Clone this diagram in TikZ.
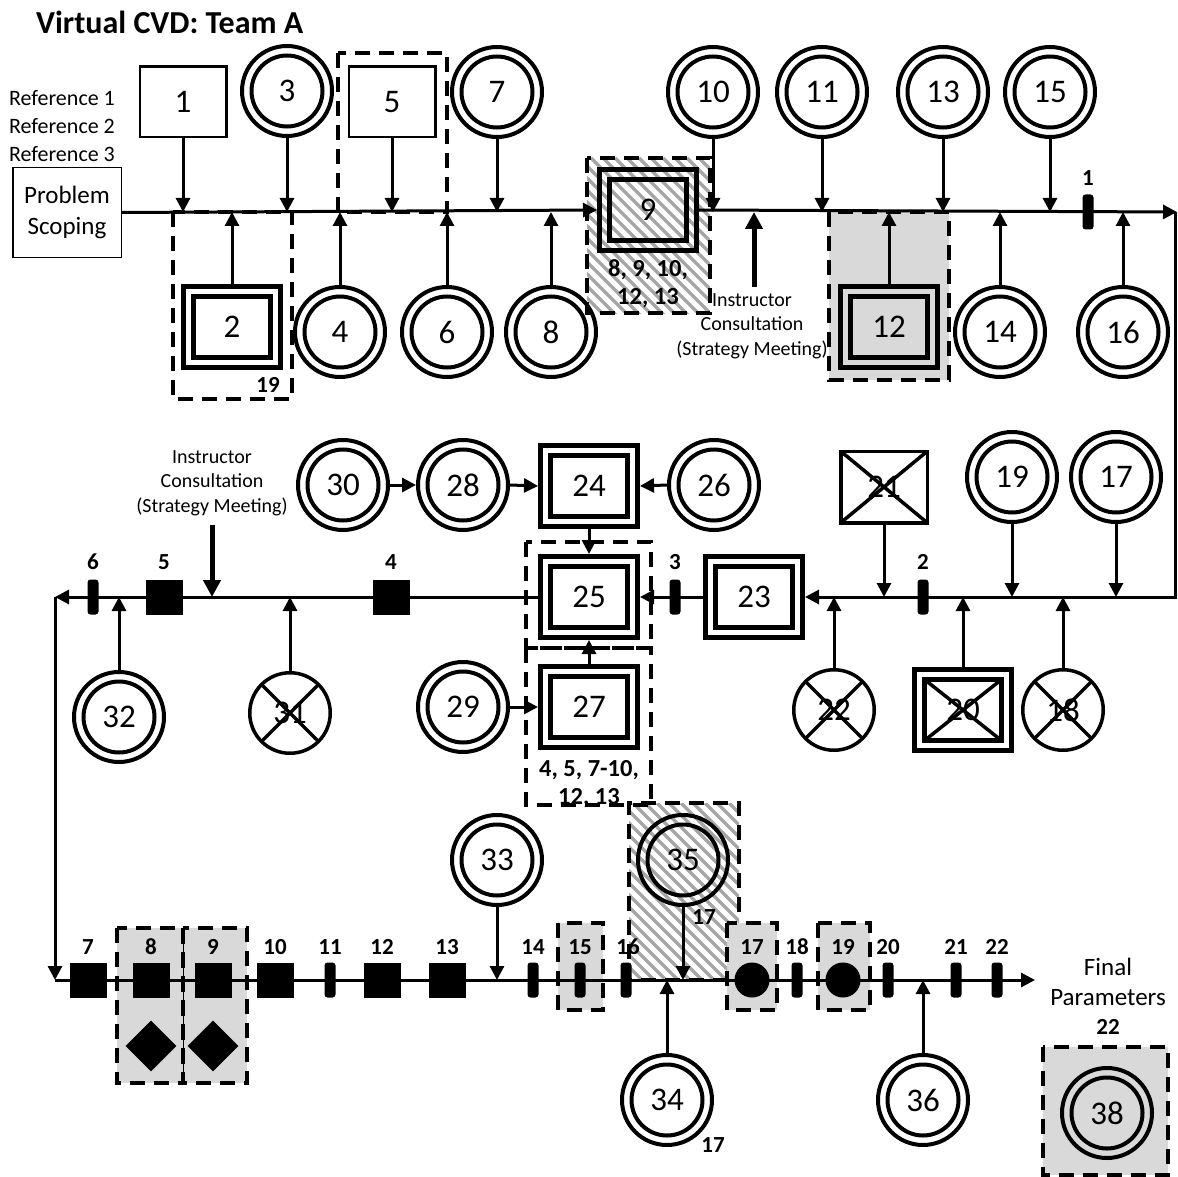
\documentclass[tikz,border=0pt]{standalone}
\usepackage{fontspec}
\setmainfont{Carlito}
\usetikzlibrary{arrows.meta,shapes.geometric}
\pgfdeclarelayer{bg}
\pgfdeclarelayer{fg}
\pgfsetlayers{bg,main,fg}
\definecolor{grayc}{RGB}{217,217,217}
\definecolor{hatchc}{RGB}{166,166,166}
\newcommand\numf{\fontsize{33}{36}\selectfont}
\newcommand\lblf{\fontsize{23}{27}\selectfont\bfseries}
\newcommand\grpf{\fontsize{24.5}{28}\selectfont\bfseries}
\newcommand\txtf{\fontsize{20}{24.5}\selectfont}
\newcommand\dcirc[3]{\node[dco] (#1) at (#2) {}; \node[dci] (#1in) at (#2) {#3};}
\newcommand\dboxn[3]{\node[dbo] (#1) at (#2) {}; \node[dbi] (#1in) at (#2) {#3};}
\newcommand\hatchrect[4]{\begin{scope}\clip (#1,#2) rectangle (#3,#4);
  \foreach \a in {-200,-188,...,140} {\draw[hatchline] ({#1+\a},#2) -- ++(260,260);}\end{scope}}
\tikzset{
 ln/.style={line width=3pt},
 arr/.style={line width=3pt,-{Triangle[length=14pt,width=14pt]}},
 bigarr/.style={line width=5pt,-{Triangle[length=17pt,width=17pt]}},
 dco/.style={circle,draw,line width=4pt,minimum size=90pt,inner sep=0pt,outer sep=2pt},
 dci/.style={circle,draw,line width=4pt,minimum size=71pt,inner sep=0pt,font=\numf},
 dbo/.style={rectangle,draw,line width=5pt,minimum width=97pt,minimum height=81pt,inner sep=0pt,outer sep=2.5pt},
 dbi/.style={rectangle,draw,line width=5pt,minimum width=77pt,minimum height=61pt,inner sep=0pt,font=\numf},
 xpic/.style={path picture={\draw[line width=3.5pt] (path picture bounding box.south west) -- (path picture bounding box.north east) (path picture bounding box.north west) -- (path picture bounding box.south east);}},
 sbox/.style={rectangle,draw,line width=2.5pt,minimum width=86.5pt,minimum height=70.5pt,inner sep=0pt,outer sep=1.25pt,font=\numf},
 xcirc/.style={circle,draw,line width=3.5pt,minimum size=80.5pt,inner sep=0pt,outer sep=1.75pt,font=\numf,xpic},
 xbox/.style={rectangle,draw,line width=3.5pt,minimum width=86.5pt,minimum height=71.5pt,inner sep=0pt,outer sep=1.75pt,font=\numf,xpic},
 sqm/.style={rectangle,fill=black,minimum width=37pt,minimum height=35pt,inner sep=0pt},
 thm/.style={rectangle,fill=black,rounded corners=3pt,minimum width=11pt,minimum height=35pt,inner sep=0pt},
 dtm/.style={circle,fill=black,minimum size=35pt,inner sep=0pt},
 dmd/.style={diamond,fill=black,minimum width=51pt,minimum height=51pt,inner sep=0pt},
 lbl/.style={font=\lblf,inner sep=0pt},
 grp/.style={font=\grpf,inner sep=0pt},
 txt/.style={font=\txtf,align=center,inner sep=0pt},
 dbox/.style={line width=4pt,dash pattern=on 15pt off 9pt},
 hatchline/.style={draw=hatchc,line width=3.5pt},
}
\begin{document}
\begin{tikzpicture}[x=1pt,y=-1pt]
\useasboundingbox (0,0) rectangle (1178,1177);
\begin{pgfonlayer}{bg}
 \fill[white] (0,0) rectangle (1178,1177);
 \hatchrect{587}{158}{710}{313}
 \hatchrect{629}{803}{739}{980}
 \fill[grayc] (829,212) rectangle (949,380);
 \fill[grayc] (117,928) rectangle (247,1083);
 \fill[grayc] (558,923) rectangle (603,1010);
 \fill[grayc] (727,923) rectangle (777,1010);
 \fill[grayc] (818,923) rectangle (870,1010);
 \fill[grayc] (1043,1047) rectangle (1168,1175);
\end{pgfonlayer}

% title and texts
\node[anchor=west,font=\fontsize{32}{36}\selectfont\bfseries,inner sep=0pt] (title) at (36,22) {Virtual CVD: Team A};
\node[font=\fontsize{22}{26}\selectfont,inner sep=0pt] (ref1) at (62,98) {Reference 1};
\node[font=\fontsize{22}{26}\selectfont,inner sep=0pt] (ref2) at (62,126) {Reference 2};
\node[font=\fontsize{22}{26}\selectfont,inner sep=0pt] (ref3) at (62,154) {Reference 3};
\node[draw,line width=1.5pt,minimum width=108.5pt,minimum height=89.5pt,align=center,inner sep=0pt,outer sep=0.75pt,font=\fontsize{25}{31}\selectfont] (ps) at (67,212.5) {Problem\\Scoping};
\node[txt] (it1) at (752,326) {Instructor\\Consultation\\(Strategy Meeting)};
\node[txt] (it2) at (212,483) {Instructor\\Consultation\\(Strategy Meeting)};
\node[font=\fontsize{25}{30}\selectfont,align=center,inner sep=0pt] (fp) at (1108,982) {Final\\Parameters};
\node[lbl] (fp22) at (1108,1027) {22};

% line reference coordinates
\coordinate (L1) at (0,212);
\coordinate (L2) at (0,597);
\coordinate (L3) at (0,980);
\coordinate (cTR) at (1177,212);
\coordinate (cTRv) at (1175,212);
\coordinate (cML) at (55,597);
\coordinate (cBL) at (55,980);
\coordinate (cBR) at (1035,980);
\coordinate (ic1) at (754,287);
\coordinate (ic2) at (212,525);

% top row nodes
\node[sbox] (n1) at (183,102) {1};
\dcirc{n3}{287,91}{3}
\node[sbox] (n5) at (392,102) {5};
\dcirc{n7}{497,92}{7}
\dcirc{n10}{713,92}{10}
\dcirc{n11}{822,92}{11}
\dcirc{n13}{943,92}{13}
\dcirc{n15}{1050,92}{15}
\dboxn{n2}{232,327}{2}
\dcirc{n4}{340,332}{4}
\dcirc{n6}{447,332}{6}
\dcirc{n8}{551,332}{8}
\dboxn{n9}{648,210}{9}
\dboxn{n12}{889,327}{12}
\dcirc{n14}{1000,332}{14}
\dcirc{n16}{1123,332}{16}
\node[grp] (g9a) at (648,270) {8, 9, 10,};
\node[grp] (g9b) at (648,298) {12, 13};
\node[lbl] (g2) at (268,385) {19};

% middle row nodes
\dcirc{n30}{343,485}{30}
\dcirc{n28}{463,485}{28}
\dboxn{n24}{589,486}{24}
\dcirc{n26}{714,485}{26}
\dboxn{n25}{589,597}{25}
\dboxn{n27}{589,707}{27}
\dcirc{n29}{463,707}{29}
\dboxn{n23}{754,597}{23}
\node[xbox] (n21) at (884,487) {21};
\dcirc{n19}{1012,477}{19}
\dcirc{n17}{1116,477}{17}
\dcirc{n32}{119,717}{32}
\node[xcirc] (n31) at (290,713) {31};
\node[xcirc] (n22) at (834,710) {22};
\node[dbo] (n20) at (963,710) {};
\node[dbi,xpic] (n20in) at (963,710) {20};
\node[xcirc] (n18) at (1063,710) {18};
\node[grp] (g27a) at (589,770) {4, 5, 7-10,};
\node[grp] (g27b) at (589,798) {12, 13};

% bottom row nodes
\dcirc{n33}{497,860}{33}
\dcirc{n35}{683,860}{35}
\dcirc{n34}{667,1100}{34}
\dcirc{n36}{923,1100}{36}
\dcirc{n38}{1107,1113}{38}
\node[lbl] (l35) at (704,917) {17};
\node[lbl] (l34) at (713,1145) {17};

% main lines
\draw[arr] (ps.east) -- (n9.west);
\draw[arr] (n9.east) -- (cTR);
\draw[arr] (cTRv) |- (n23.east);
\draw[arr] (n23.west) -- (n25.east);
\draw[arr] (n25.west) -- (cML);
\draw[arr] (cML) -- (cBL);
\draw[arr] (cBL) -- (cBR);

% top arrows
\foreach \n in {n1,n3,n5,n7,n10,n11,n13,n15} {\draw[arr] (\n.south) -- (\n |- L1);}
\foreach \n in {n2,n4,n6,n8,n12,n14,n16} {\draw[arr] (\n.north) -- (\n |- L1);}
\draw[bigarr] (ic1) -- (ic1 |- L1);
% middle arrows
\foreach \n in {n21,n19,n17} {\draw[arr] (\n.south) -- (\n |- L2);}
\foreach \n in {n32,n31,n22,n20,n18} {\draw[arr] (\n.north) -- (\n |- L2);}
\draw[bigarr] (ic2) -- (ic2 |- L2);
\draw[arr] (n30.east) -- (n28.west);
\draw[arr] (n28.east) -- (n24.west);
\draw[arr] (n26.west) -- (n24.east);
\draw[arr] (n24.south) -- (n25.north);
\draw[arr] (n27.north) -- (n25.south);
\draw[arr] (n29.east) -- (n27.west);
% bottom arrows
\foreach \n in {n33,n35} {\draw[arr] (\n.south) -- (\n |- L3);}
\foreach \n in {n34,n36} {\draw[arr] (\n.north) -- (\n |- L3);}

\begin{pgfonlayer}{fg}
 % markers top / middle
 \node[thm] (m1) at (1088,212) {};
 \node[lbl] (lm1) at (1088,178) {1};
 \node[thm] (m6) at (93,597) {};   \node[lbl] (lm6) at (93,562) {6};
 \node[sqm] (m5) at (164,597) {};  \node[lbl] (lm5) at (164,562) {5};
 \node[sqm] (m4) at (391,597) {};  \node[lbl] (lm4) at (391,562) {4};
 \node[thm] (m3) at (675,597) {};  \node[lbl] (lm3) at (675,562) {3};
 \node[thm] (m2) at (923,597) {};  \node[lbl] (lm2) at (923,562) {2};
 % bottom markers
 \node[sqm] (b7) at (88,980) {};   \node[lbl] (lb7) at (88,947) {7};
 \node[sqm] (b8) at (151,980) {};  \node[lbl] (lb8) at (151,947) {8};
 \node[sqm] (b9) at (213,980) {};  \node[lbl] (lb9) at (213,947) {9};
 \node[sqm] (b10) at (275,980) {}; \node[lbl] (lb10) at (275,947) {10};
 \node[thm] (b11) at (330,980) {}; \node[lbl] (lb11) at (330,947) {11};
 \node[sqm] (b12) at (382,980) {}; \node[lbl] (lb12) at (382,947) {12};
 \node[sqm] (b13) at (447,980) {}; \node[lbl] (lb13) at (447,947) {13};
 \node[thm] (b14) at (533,980) {}; \node[lbl] (lb14) at (533,947) {14};
 \node[thm] (b15) at (580,980) {}; \node[lbl] (lb15) at (580,947) {15};
 \node[thm] (b16) at (626,980) {}; \node[lbl] (lb16) at (628,947) {16};
 \node[dtm] (b17) at (752,980) {}; \node[lbl] (lb17) at (752,947) {17};
 \node[thm] (b18) at (797,980) {}; \node[lbl] (lb18) at (797,947) {18};
 \node[dtm] (b19) at (843,980) {}; \node[lbl] (lb19) at (843,947) {19};
 \node[thm] (b20) at (888,980) {}; \node[lbl] (lb20) at (888,947) {20};
 \node[thm] (b21) at (956,980) {}; \node[lbl] (lb21) at (956,947) {21};
 \node[thm] (b22) at (997,980) {}; \node[lbl] (lb22) at (997,947) {22};
 \node[dmd] (d8) at (151,1046) {};
 \node[dmd] (d9) at (213,1046) {};
 % dashed group borders
 \draw[dbox] (173,212) rectangle (292,399);
 \draw[dbox] (338,53) rectangle (447,212);
 \draw[dbox] (587,158) rectangle (710,313);
 \draw[dbox] (829,212) rectangle (949,380);
 \draw[dbox] (526,542) rectangle (651,648);
 \draw[dbox] (526,648) rectangle (651,805);
 \draw[dbox] (117,928) rectangle (183,1083);
 \draw[dbox] (183,928) rectangle (247,1083);
 \draw[line width=0.8pt] (183,928) -- (183,1083);
 \draw[dbox] (558,923) rectangle (603,1010);
 \draw[dbox] (739,912) |- (629,803) |- (727,980);
 \draw[dbox] (727,923) rectangle (777,1010);
 \draw[dbox] (818,923) rectangle (870,1010);
 \draw[dbox] (1043,1047) rectangle (1168,1175);
\end{pgfonlayer}
\end{tikzpicture}
\end{document}
